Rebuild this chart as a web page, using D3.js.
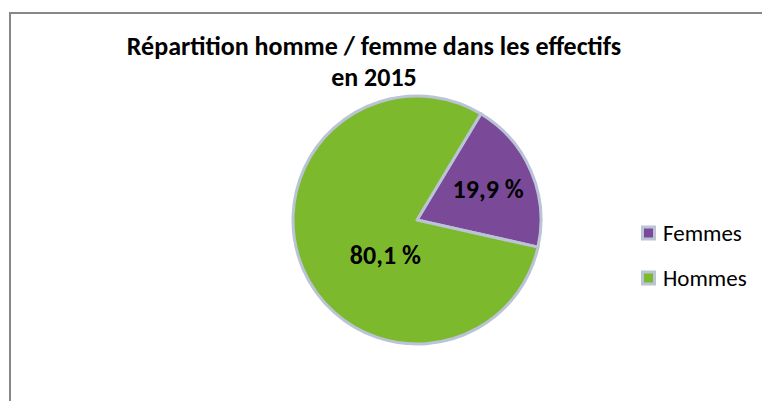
<html>
<head>
<meta charset="utf-8">
<title>Répartition homme / femme</title>
<script src="https://cdn.jsdelivr.net/npm/d3@7"></script>
<style>
body { margin: 0; background: #fff; }
text { font-family: Carlito, Calibri, Lato, sans-serif; }
</style>
</head>
<body>
<svg width="762" height="401"></svg>
<script>
var categories = ["Femmes", "Hommes"];
var values = [19.9, 80.1];
var labels = ["19,9 %", "80,1 %"];
var colors = ["#7a4a99", "#7cb92d"];
var titleLines = ["Répartition homme / femme dans les effectifs", "en 2015"];

var svg = d3.select("svg");
var cx = 417, cy = 220, radius = 124;

// chart frame
svg.append("rect")
    .attr("x", 10).attr("y", 13)
    .attr("width", 800).attr("height", 450)
    .attr("fill", "none")
    .attr("stroke", "#878787")
    .attr("stroke-width", 2);

// title
svg.append("g").selectAll("text")
    .data(titleLines)
    .join("text")
    .attr("x", 374)
    .attr("y", (d, i) => 55 + i * 31)
    .attr("text-anchor", "middle")
    .attr("font-size", 26)
    .attr("font-weight", "bold")
    .text(d => d);

var data = categories.map((c, i) => ({name: c, value: values[i], label: labels[i], color: colors[i]}));

var start = 31 * Math.PI / 180;
var pie = d3.pie()
    .value(d => d.value)
    .sort(null)
    .startAngle(start)
    .endAngle(start + 2 * Math.PI);

var arc = d3.arc().innerRadius(0).outerRadius(radius);

// Excel-like label spot: sector centroid for small slices,
// pulled toward the lower-left for the big one
function labelPos(d) {
    var span = d.endAngle - d.startAngle;
    var a = (d.startAngle + d.endAngle) / 2, r;
    if (span < Math.PI) {
        r = 2 * radius * Math.sin(span / 2) / (1.5 * span);
    } else {
        a -= 0.43;
        r = radius * 0.38;
    }
    return [Math.sin(a) * r, -Math.cos(a) * r];
}

var g = svg.append("g").attr("transform", `translate(${cx},${cy})`);

g.selectAll("path")
    .data(pie(data))
    .join("path")
    .attr("d", arc)
    .attr("fill", d => d.data.color)
    .attr("stroke", "#bac4d6")
    .attr("stroke-width", 3)
    .attr("stroke-linejoin", "round");

g.selectAll("text")
    .data(pie(data))
    .join("text")
    .attr("transform", d => `translate(${labelPos(d)})`)
    .attr("text-anchor", "middle")
    .attr("dy", "0.33em")
    .attr("font-size", 26)
    .attr("font-weight", "bold")
    .text(d => d.data.label);

// legend
var legend = svg.append("g").attr("transform", "translate(641,233)")
    .selectAll("g")
    .data(data)
    .join("g")
    .attr("transform", (d, i) => `translate(0,${i * 45})`);

legend.append("rect")
    .attr("x", 1.5).attr("y", -6)
    .attr("width", 12).attr("height", 12)
    .attr("fill", d => d.color)
    .attr("stroke", "#bac4d6")
    .attr("stroke-width", 3);

legend.append("text")
    .attr("x", 22)
    .attr("dy", "0.35em")
    .attr("font-size", 23)
    .text(d => d.name);
</script>
</body>
</html>
